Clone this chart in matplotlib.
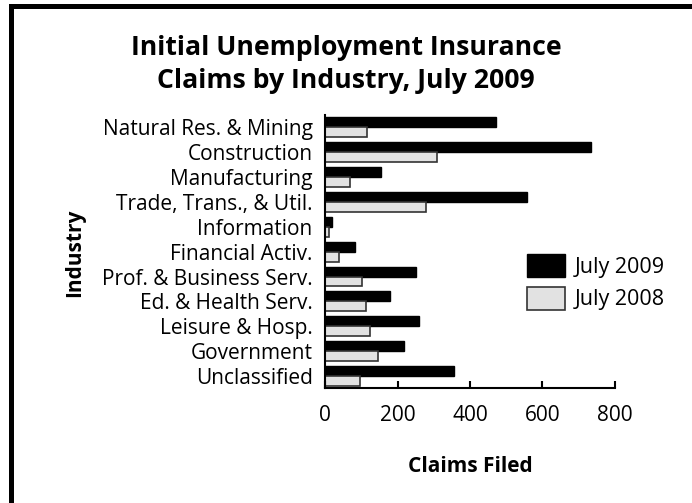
import matplotlib.pyplot as plt
import numpy as np
from matplotlib.lines import Line2D

industries = ['Natural Res. & Mining', 'Construction', 'Manufacturing',
              'Trade, Trans., & Util.', 'Information', 'Financial Activ.',
              'Prof. & Business Serv.', 'Ed. & Health Serv.', 'Leisure & Hosp.',
              'Government', 'Unclassified']
claims_2009 = [471, 734, 154, 557, 20, 82, 252, 179, 259, 217, 355]
claims_2008 = [115, 310, 70, 278, 12, 38, 103, 114, 124, 146, 97]
x_ticks = [0, 200, 400, 600, 800]

plt.rcParams['font.family'] = ['Open Sans', 'DejaVu Sans']

fig = plt.figure(figsize=(6.92, 5.03), dpi=100)
ax = fig.add_axes([0.4697, 0.2286, 0.419, 0.5427])

y = np.arange(len(industries))
ax.barh(y - 0.2, claims_2009, height=0.4, color='black', edgecolor='black',
        linewidth=1, label='July 2009')
ax.barh(y + 0.2, claims_2008, height=0.4, color='#e2e2e2', edgecolor='#333333',
        linewidth=1.2, label='July 2008')

ax.set_ylim(10.48, -0.49)
ax.set_xlim(0, 800)
ax.set_yticks(y)
ax.set_yticklabels(industries, fontsize=15)
ax.tick_params(axis='y', length=0, pad=9)
ax.set_xticks(x_ticks)
ax.set_xticklabels([str(v) for v in x_ticks], fontsize=15)
ax.tick_params(axis='x', direction='in', length=5, width=1.5, pad=12)
for s in ['top', 'right']:
    ax.spines[s].set_visible(False)
ax.spines['left'].set_linewidth(1.5)
ax.spines['bottom'].set_linewidth(1.5)

ax.set_xlabel('Claims Filed', fontsize=15, fontweight='bold', labelpad=22)
fig.text(0.108, 0.497, 'Industry', rotation=90, fontsize=15, fontweight='bold',
         ha='center', va='center')

fig.text(0.5, 0.905, 'Initial Unemployment Insurance', fontsize=19.2,
         fontweight='bold', ha='center', va='center')
fig.text(0.5, 0.838, 'Claims by Industry, July 2009', fontsize=19.2,
         fontweight='bold', ha='center', va='center')

leg = ax.legend(loc='upper left', bbox_to_anchor=(527 / 692, 1 - 254 / 503),
                bbox_transform=fig.transFigure, frameon=False, fontsize=15.5,
                handlelength=1.75, handleheight=1.3, handletextpad=0.45,
                labelspacing=0.4, borderpad=0, borderaxespad=0)

# outer frame: left and top edges only
fig.add_artist(Line2D([10.5 / 692, 10.5 / 692], [0, 1 - 5.5 / 503], color='black',
                      linewidth=3.6, transform=fig.transFigure, solid_capstyle='projecting'))
fig.add_artist(Line2D([10.5 / 692, 1], [1 - 5.5 / 503, 1 - 5.5 / 503], color='black',
                      linewidth=3.6, transform=fig.transFigure, solid_capstyle='projecting'))

fig.savefig('out.png', dpi=100)
